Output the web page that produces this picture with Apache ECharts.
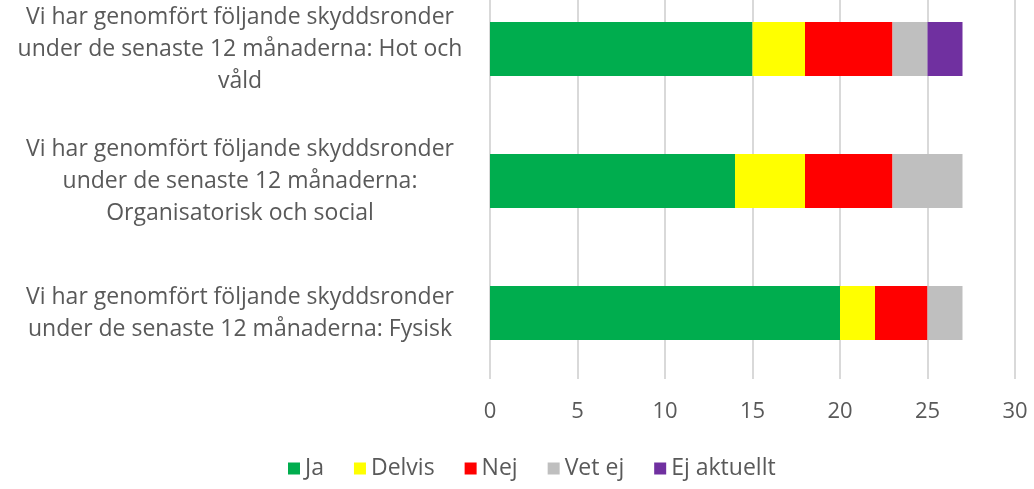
<!DOCTYPE html>
<html>
<head>
<meta charset="utf-8">
<script src="https://cdn.jsdelivr.net/npm/echarts@6/dist/echarts.min.js"></script>
<style>
  html, body { margin: 0; padding: 0; background: #fff; overflow: hidden; }
  /* diagrammet är beskuret upptill i originalet, därför lite förskjutet uppåt */
  #chart { width: 1034px; height: 506px; margin-top: -17px; }
</style>
</head>
<body>
<div id="chart"></div>
<script>
// kategorier nedifrån och upp (y-axeln börjar nerifrån)
const categories = [
  'Vi har genomfört följande skyddsronder\nunder de senaste 12 månaderna: Fysisk',
  'Vi har genomfört följande skyddsronder\nunder de senaste 12 månaderna:\nOrganisatorisk och social',
  'Vi har genomfört följande skyddsronder\nunder de senaste 12 månaderna: Hot och\nvåld'
];
const seriesNames = ['Ja', 'Delvis', 'Nej', 'Vet ej', 'Ej aktuellt'];
const ja = [20, 14, 15];
const delvis = [2, 4, 3];
const nej = [3, 5, 5];
const vetEj = [2, 4, 2];
const ejAktuellt = [0, 0, 2];
const xTicks = [0, 5, 10, 15, 20, 25, 30];

const colors = ['#00ad4e', '#ffff00', '#ff0000', '#bfbfbf', '#7030a0'];
const values = [ja, delvis, nej, vetEj, ejAktuellt];
const font = '"Open Sans", "Noto Sans", sans-serif';

const chart = echarts.init(document.getElementById('chart'));
chart.setOption({
  animation: false,
  grid: { left: 490, right: 19, top: 0, bottom: 110, containLabel: false },
  legend: {
    bottom: 4,
    left: 283,
    itemWidth: 12,
    itemHeight: 12,
    itemGap: 30,
    icon: 'rect',
    textStyle: { fontFamily: font, fontSize: 23, color: '#595959' },
    data: seriesNames
  },
  xAxis: {
    type: 'value',
    min: xTicks[0],
    max: xTicks[xTicks.length - 1],
    interval: 5,
    axisLine: { show: false },
    axisTick: { show: false },
    splitLine: { lineStyle: { color: '#d9d9d9', width: 2 } },
    axisLabel: { margin: 22, fontFamily: font, fontSize: 22, color: '#595959' }
  },
  yAxis: {
    type: 'category',
    data: categories,
    axisLine: { show: false },
    axisTick: { show: false },
    axisLabel: {
      align: 'center',
      margin: 250,
      fontFamily: font,
      fontSize: 23,
      lineHeight: 32,
      color: '#595959'
    }
  },
  series: seriesNames.map((name, i) => ({
    name: name,
    type: 'bar',
    stack: 'total',
    barWidth: 54,
    itemStyle: { color: colors[i] },
    data: values[i]
  }))
});
</script>
</body>
</html>
